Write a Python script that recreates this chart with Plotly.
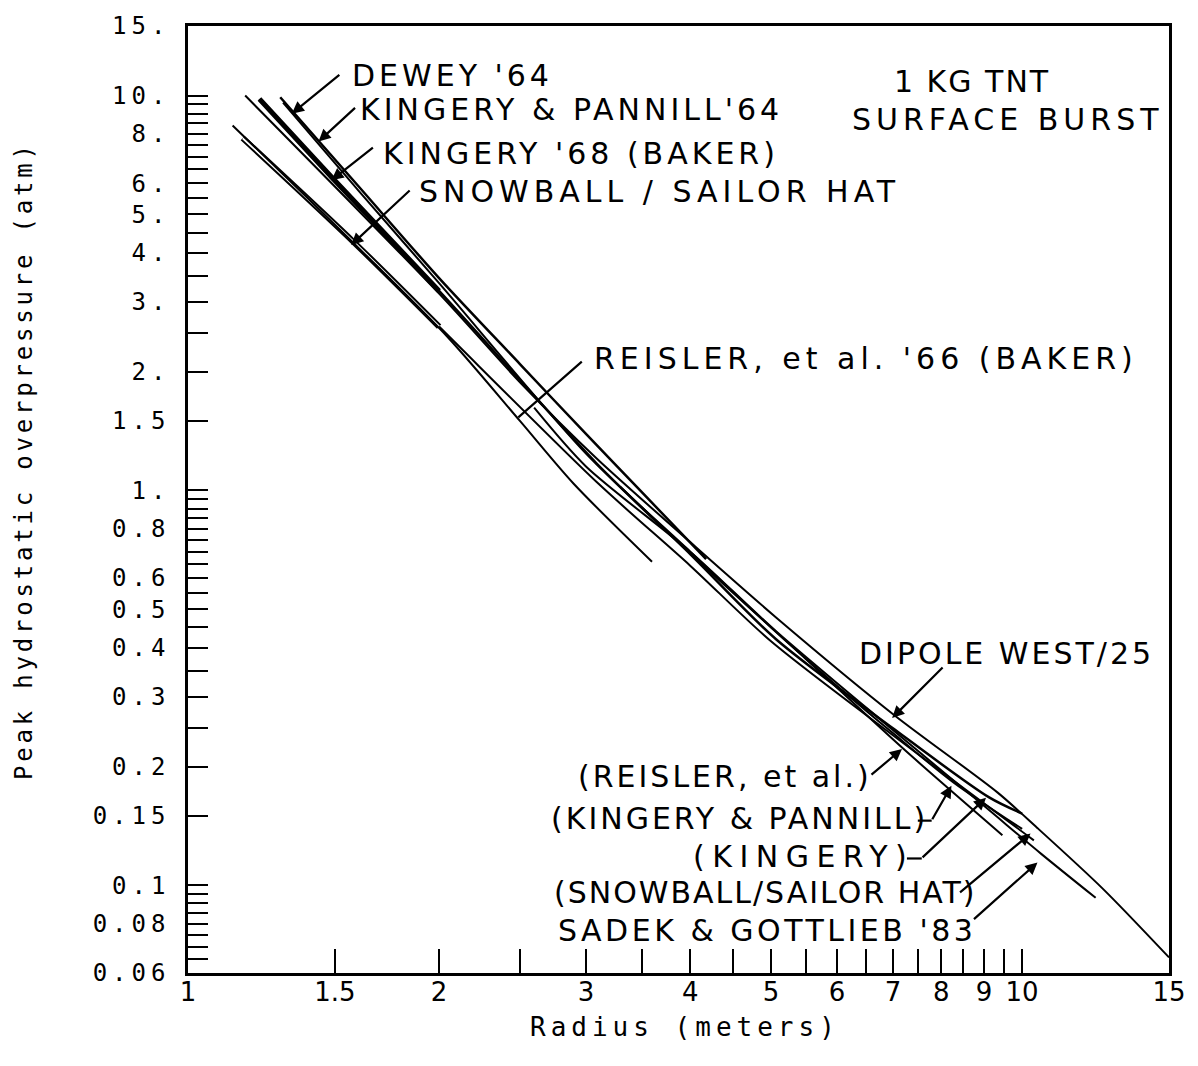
import math
import plotly.graph_objects as go

# ---------------- data ----------------
dewey_x = [1.29, 1.6, 2.0, 2.5, 3.0, 3.5, 4.18]
dewey_y = [9.9, 5.9, 3.45, 2.09, 1.39, 0.99, 0.67]

kp_x = [1.30, 1.6, 2.0, 3.0, 4.0, 5.0, 6.0, 7.0, 8.28, 10.0]
kp_y = [9.6, 5.75, 3.35, 1.24, 0.70, 0.45, 0.32, 0.243, 0.182, 0.139]

kingery_x = [1.218, 1.488, 2.0, 3.09, 4.0, 5.07, 7.0, 9.13, 10.0]
kingery_y = [9.8, 6.2, 3.2, 1.17, 0.69, 0.42, 0.25, 0.167, 0.152]

snowball_x = [1.163, 1.572, 2.0, 3.09, 4.0, 5.0, 7.0, 10.33]
snowball_y = [7.8, 4.3, 2.6, 1.05, 0.645, 0.415, 0.24, 0.130]

reisler66_x = [1.131, 1.6, 2.05, 2.5, 2.9, 3.6]
reisler66_y = [8.4, 4.12, 2.44, 1.50, 1.04, 0.66]

reisler_ext_x = [3.3, 4.2, 5.5, 7.2, 9.47]
reisler_ext_y = [1.02, 0.63, 0.375, 0.222, 0.134]

dipole_x = [1.171, 2.0, 2.5, 3.09, 4.0, 5.07, 7.04, 9.34, 10.42, 12.5, 15.0]
dipole_y = [10.0, 3.15, 1.88, 1.205, 0.74, 0.477, 0.269, 0.172, 0.140, 0.098, 0.0657]

sadek_x = [2.6, 3.0, 4.0, 5.07, 7.04, 9.0, 10.55, 12.25]
sadek_y = [1.62, 1.15, 0.70, 0.44, 0.245, 0.159, 0.12, 0.093]

# axis ticks / labels
x_tickvals = [1, 1.5, 2, 3, 4, 5, 6, 7, 8, 9, 10, 15]
x_ticktext = ["1", "1.5", "2", "3", "4", "5", "6", "7", "8", "9", "10", "15"]
x_minor = [2.5, 3.5, 4.5, 5.5, 6.5, 7.5, 8.5, 9.5]

y_tickvals = [15, 10, 8, 6, 5, 4, 3, 2, 1.5, 1, 0.8, 0.6, 0.5, 0.4, 0.3, 0.2,
              0.15, 0.1, 0.08, 0.06]
y_ticktext = ["15.", "10.", "8.", "6.", "5.", "4.", "3.", "2.", "1.5", "1.",
              "0.8", "0.6", "0.5", "0.4", "0.3", "0.2", "0.15", "0.1", "0.08", "0.06"]
y_minor = [9.5, 9, 8.5, 7.5, 7, 6.5, 5.5, 4.5, 3.5, 2.5,
           0.95, 0.9, 0.85, 0.75, 0.7, 0.65, 0.55, 0.45, 0.35, 0.25,
           0.095, 0.09, 0.085, 0.075, 0.07, 0.065]

# ---------------- layout geometry ----------------
W, H = 1198, 1066
L, R, T, B = 188, 1180, 22, 973
PW, PH = R - L, B - T


def px(xp):
    return (xp - L) / PW


def py(yp):
    return 1 - (yp - T) / PH


HAND = "DejaVu Sans"
PLOT = "DejaVu Sans Mono"


def sp(text, s):
    return '<span style="letter-spacing:%gpx">%s</span>' % (s, text)


fig = go.Figure()

SM = 0.8


def curve(xs, ys, width=2, color="black", name=""):
    fig.add_trace(go.Scatter(x=xs, y=ys, mode="lines", name=name, hoverinfo="skip",
                             line=dict(color=color, width=width, shape="spline", smoothing=SM)))


curve(dipole_x, dipole_y, name="DIPOLE WEST/25")
curve(sadek_x, sadek_y, name="SADEK & GOTTLIEB '83")
curve(dewey_x, dewey_y, width=2.5, name="DEWEY '64")
curve(kp_x, kp_y, name="KINGERY & PANNILL '64")
curve(kingery_x, kingery_y, width=2.5, name="KINGERY '68")
curve(kingery_x[:3], kingery_y[:3], width=5, name="KINGERY '68 (thick part)")
curve(snowball_x, snowball_y, name="SNOWBALL / SAILOR HAT")
curve(snowball_x[:3], snowball_y[:3], width=6, name="SNOWBALL (double stroke)")
curve(snowball_x[:3], snowball_y[:3], width=2, color="white", name="SNOWBALL (double stroke inner)")
curve(reisler66_x, reisler66_y, name="REISLER '66")
curve(reisler_ext_x, reisler_ext_y, name="(REISLER, et al.)")

annotations = []
shapes = []


def label(text, x0, yc, size=30, spacing=4, anchor="left"):
    annotations.append(dict(text=sp(text, spacing), x=px(x0), y=py(yc), xref="paper", yref="paper",
                            xanchor=anchor, yanchor="middle", showarrow=False,
                            font=dict(family=HAND, size=size, color="black")))


def arrow(tail, tip, head=True):
    annotations.append(dict(text="", x=px(tip[0]), y=py(tip[1]), xref="paper", yref="paper",
                            ax=tail[0] - tip[0], ay=tail[1] - tip[1], axref="pixel", ayref="pixel",
                            showarrow=True, arrowhead=2 if head else 0, arrowsize=1.1,
                            arrowwidth=2.2, arrowcolor="black"))


def seg(p0, p1):
    shapes.append(dict(type="line", xref="paper", yref="paper", x0=px(p0[0]), y0=py(p0[1]),
                       x1=px(p1[0]), y1=py(p1[1]), line=dict(color="black", width=2.2)))


label("DEWEY '64", 352, 72, spacing=4)
arrow((342, 70), (293, 110))
label("KINGERY &amp; PANNILL'64", 360, 106, spacing=4)
arrow((358, 103), (320, 138))
label("KINGERY '68 (BAKER)", 383, 150, spacing=4)
arrow((376, 143), (333, 177))
label("SNOWBALL / SAILOR HAT", 420, 188, spacing=5)
arrow((413, 186), (353, 242))
label("1 KG TNT", 900, 78, spacing=2)
label("SURFACE BURST", 857, 116, spacing=5)
label("REISLER, et al. '66 (BAKER)", 597, 356, spacing=5)
arrow((587, 358), (522, 415), head=False)
label("DIPOLE WEST/25", 865, 652, spacing=3)
arrow((952, 665), (900, 717))
label("(REISLER, et al.)", 580, 776, spacing=3)
arrow((878, 775), (910, 748))
label("(KINGERY &amp; PANNILL)", 553, 818, spacing=3)
seg((926, 820), (940, 820))
arrow((940, 820), (960, 785))
label("(KINGERY)", 697, 856, spacing=7.5)
seg((915, 858), (930, 858))
arrow((930, 858), (995, 797))
label("(SNOWBALL/SAILOR HAT)", 556, 892, spacing=2)
arrow((968, 893), (1040, 833))
label("SADEK &amp; GOTTLIEB '83", 560, 930, spacing=3.5)
arrow((982, 920), (1047, 862))

# axis titles
annotations.append(dict(text=sp("Peak hydrostatic overpressure (atm)", 3.8), x=px(22), y=py(458),
                        xref="paper", yref="paper", textangle=-90, showarrow=False,
                        xanchor="center", yanchor="middle",
                        font=dict(family=PLOT, size=24, color="black")))
annotations.append(dict(text=sp("Radius (meters)", 5), x=px(691), y=py(1027),
                        xref="paper", yref="paper", showarrow=False,
                        xanchor="center", yanchor="middle",
                        font=dict(family=PLOT, size=26, color="black")))

fig.update_layout(
    width=W, height=H,
    margin=dict(l=L, r=W - R, t=T, b=H - B, pad=0),
    paper_bgcolor="white", plot_bgcolor="white",
    showlegend=False,
    annotations=annotations, shapes=shapes,
    xaxis=dict(type="log", range=[0, math.log10(15)], showgrid=False, zeroline=False,
               showline=True, linecolor="black", linewidth=2.5, mirror=True,
               tickmode="array", tickvals=x_tickvals, ticktext=x_ticktext,
               ticks="inside", ticklen=24, tickwidth=2, tickcolor="black",
               ticklabelstandoff=-6, ticklabeloverflow="allow",
               tickfont=dict(family=HAND, size=26, color="black"),
               minor=dict(tickmode="array", tickvals=x_minor, ticks="inside", ticklen=24,
                          tickwidth=2, tickcolor="black", showgrid=False)),
    yaxis=dict(type="log", range=[math.log10(0.06), math.log10(15)], showgrid=False, zeroline=False,
               showline=True, linecolor="black", linewidth=2.5, mirror=True,
               tickmode="array", tickvals=y_tickvals, ticktext=[sp(t, 5) for t in y_ticktext],
               ticks="inside", ticklen=20, tickwidth=2, tickcolor="black",
               ticklabelstandoff=10, ticklabeloverflow="allow",
               tickfont=dict(family=PLOT, size=24, color="black"),
               minor=dict(tickmode="array", tickvals=y_minor, ticks="inside", ticklen=20,
                          tickwidth=2, tickcolor="black", showgrid=False)),
)

fig.write_html("out.html")
